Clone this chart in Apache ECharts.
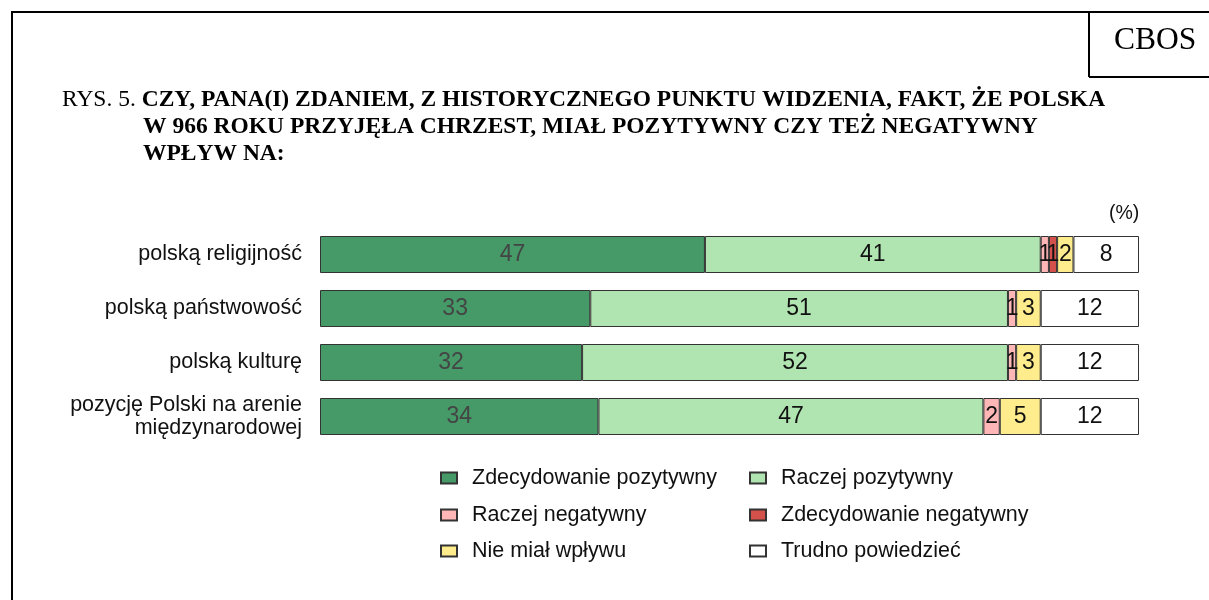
<!DOCTYPE html>
<html>
<head>
<meta charset="utf-8">
<script src="https://cdn.jsdelivr.net/npm/echarts@6/dist/echarts.min.js"></script>
<style>
  html, body { margin: 0; padding: 0; background: #fff; }
  #chart { width: 1209px; height: 600px; }
</style>
</head>
<body>
<div id="chart"></div>
<script>
// dane (%)
var categories = ['polską religijność', 'polską państwowość', 'polską kulturę', 'pozycję Polski na arenie\nmiędzynarodowej'];
var seriesNames = ['Zdecydowanie pozytywny', 'Raczej pozytywny', 'Raczej negatywny', 'Zdecydowanie negatywny', 'Nie miał wpływu', 'Trudno powiedzieć'];
var zdecPozytywny = [47, 33, 32, 34];
var raczejPozytywny = [41, 51, 52, 47];
var raczejNegatywny = [1, 1, 1, 2];
var zdecNegatywny = [1, 0, 0, 0];
var nieMialWplywu = [2, 3, 3, 5];
var trudnoPowiedziec = [8, 12, 12, 12];

var values = [zdecPozytywny, raczejPozytywny, raczejNegatywny, zdecNegatywny, nieMialWplywu, trudnoPowiedziec];
var colors = ['#459a68', '#b0e4b0', '#ffb6b6', '#d4504a', '#ffec8c', '#ffffff'];
var labelColors = ['#444444', '#111111', '#111111', '#111111', '#111111', '#111111'];

var chart = echarts.init(document.getElementById('chart'));

var series = seriesNames.map(function (name, i) {
    return {
        name: name,
        type: 'bar',
        stack: 'total',
        barWidth: 37,
        itemStyle: { color: colors[i], borderColor: '#333', borderWidth: 1 },
        label: {
            show: true,
            position: 'inside',
            fontFamily: 'Liberation Sans',
            fontSize: 23,
            color: labelColors[i],
            formatter: function (p) { return p.value ? p.value : ''; }
        },
        emphasis: { disabled: true },
        data: values[i].map(function (v) { return v === 0 ? '-' : v; })
    };
});

// legenda: dwie kolumny, trzy wiersze
var legendPos = [[440, 467], [749, 467], [440, 504], [749, 504], [440, 540], [749, 540]];
var legends = seriesNames.map(function (name, i) {
    return {
        data: [{ name: name, icon: 'rect' }],
        left: legendPos[i][0],
        top: legendPos[i][1],
        itemWidth: 16,
        itemHeight: 11,
        selectedMode: false,
        padding: 0,
        textStyle: { fontFamily: 'Liberation Sans', fontSize: 21.5, color: '#111', padding: [0, 0, 0, 10] }
    };
});

var option = {
    backgroundColor: '#ffffff',
    animation: false,
    grid: { left: 320, right: 70, top: 227.5, height: 216 },
    xAxis: { type: 'value', min: 0, max: 100, show: false },
    yAxis: {
        type: 'category',
        inverse: true,
        data: categories,
        axisLine: { show: false },
        axisTick: { show: false },
        axisLabel: {
            margin: 18,
            fontFamily: 'Liberation Sans',
            fontSize: 21.5,
            color: '#111',
            lineHeight: 23
        }
    },
    legend: legends,
    series: series,
    graphic: [
        { type: 'line', shape: { x1: 12, y1: 11, x2: 12, y2: 600 }, style: { stroke: '#000', lineWidth: 2 } },
        { type: 'line', shape: { x1: 11, y1: 12, x2: 1209, y2: 12 }, style: { stroke: '#000', lineWidth: 2 } },
        { type: 'line', shape: { x1: 1089, y1: 12, x2: 1089, y2: 77 }, style: { stroke: '#000', lineWidth: 2 } },
        { type: 'line', shape: { x1: 1089, y1: 77, x2: 1209, y2: 77 }, style: { stroke: '#000', lineWidth: 2 } },
        {
            type: 'text', left: 1114, top: 25,
            style: { text: 'CBOS', fontFamily: 'Liberation Serif', fontSize: 31.5, fill: '#000' }
        },
        {
            type: 'text', left: 62, top: 88,
            style: {
                text: '{n|RYS. 5. }{b|CZY, PANA(I) ZDANIEM, Z HISTORYCZNEGO PUNKTU WIDZENIA, FAKT, ŻE POLSKA}',
                rich: {
                    n: { fontFamily: 'Liberation Serif', fontSize: 23.5, fill: '#000' },
                    b: { fontFamily: 'Liberation Serif', fontSize: 23.5, fontWeight: 'bold', fill: '#000' }
                }
            }
        },
        {
            type: 'text', left: 143, top: 115,
            style: { text: 'W 966 ROKU PRZYJĘŁA CHRZEST, MIAŁ POZYTYWNY CZY TEŻ NEGATYWNY', fontFamily: 'Liberation Serif', fontSize: 23.5, fontWeight: 'bold', fill: '#000' }
        },
        {
            type: 'text', left: 143, top: 142,
            style: { text: 'WPŁYW NA:', fontFamily: 'Liberation Serif', fontSize: 23.5, fontWeight: 'bold', fill: '#000' }
        },
        {
            type: 'text', left: 1109, top: 204,
            style: { text: '(%)', fontFamily: 'Liberation Sans', fontSize: 19.5, fill: '#111' }
        }
    ]
};

chart.setOption(option);
</script>
</body>
</html>
